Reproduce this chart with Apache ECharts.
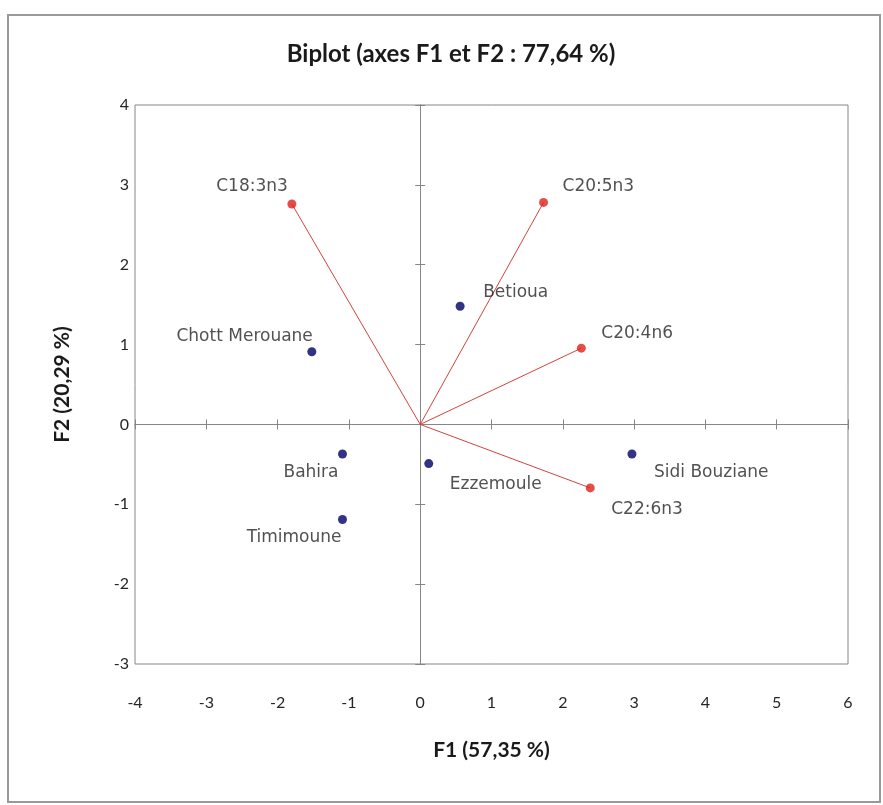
<!DOCTYPE html>
<html lang="fr">

<head>
  <meta charset="UTF-8">
  <meta name="viewport" content="width=device-width, initial-scale=1.0">
  <title>Biplot</title>
  <script src="https://cdn.jsdelivr.net/npm/echarts@6/dist/echarts.min.js"></script>
  <style>
    html, body { margin: 0; padding: 0; background: #fff; }
  </style>
</head>

<body>
  <div id="main" style="width: 883px;height:805px;"></div>
  <script>
    // 觀測值 (蓝点)
    var obsNames = ['Chott Merouane', 'Betioua', 'Bahira', 'Timimoune', 'Ezzemoule', 'Sidi Bouziane'];
    var obsF1 = [-1.52, 0.56, -1.09, -1.09, 0.12, 2.97];
    var obsF2 = [0.91, 1.48, -0.37, -1.19, -0.49, -0.37];

    // 變數 (红点 + 向量)
    var varNames = ['C18:3n3', 'C20:5n3', 'C20:4n6', 'C22:6n3'];
    var varF1 = [-1.80, 1.73, 2.26, 2.385];
    var varF2 = [2.76, 2.78, 0.955, -0.795];

    // 刻度
    var xTicks = [-4, -3, -2, -1, 0, 1, 2, 3, 4, 5, 6];
    var yTicks = [-3, -2, -1, 0, 1, 2, 3, 4];

    // 標籤位置 [align, dx, dy]
    var obsLabelPlace = [['right', 1, -15], ['left', 23, -14], ['right', -4, 19],
      ['right', -1, 18], ['left', 21, 21], ['left', 22, 19]];
    var varLabelPlace = [['right', -4, -17], ['left', 19, -16], ['left', 20, -15], ['left', 21, 22]];

    var myChart = echarts.init(document.getElementById('main'));

    var axisGrey = '#868686';
    var labelFont = { fontFamily: 'DejaVu Sans', fontSize: 17, color: '#262626' };

    function pointData(names, xs, ys, places) {
      return names.map(function (n, i) {
        return {
          name: n,
          value: [xs[i], ys[i]],
          label: {
            align: places[i][0],
            offset: [places[i][1], places[i][2]]
          }
        };
      });
    }

    var baseAxis = {
      type: 'value',
      min: xTicks[0],
      max: xTicks[xTicks.length - 1],
      interval: 1,
      splitLine: { show: false }
    };

    function centerAxis(min, max, inside) {
      return {
        type: 'value', min: min, max: max, interval: 1,
        splitLine: { show: false },
        axisLabel: { show: false },
        axisLine: { show: true, onZero: true, onZeroAxisIndex: 0, lineStyle: { color: axisGrey, width: 1 } },
        axisTick: { show: true, inside: inside, length: 5, lineStyle: { color: axisGrey } }
      };
    }

    var series = [];
    // 向量
    varNames.forEach(function (n, i) {
      series.push({
        type: 'line',
        silent: true,
        symbol: 'none',
        lineStyle: { color: '#d0443e', width: 1 },
        data: [[0, 0], [varF1[i], varF2[i]]],
        z: 2
      });
    });
    series.push({
      name: 'Variables',
      type: 'scatter',
      symbolSize: 9,
      itemStyle: { color: '#e0201b' },
      label: Object.assign({ show: true, position: 'inside', formatter: '{b}' }, labelFont),
      data: pointData(varNames, varF1, varF2, varLabelPlace),
      z: 3
    });
    series.push({
      name: 'Observations',
      type: 'scatter',
      symbolSize: 9,
      itemStyle: { color: '#000066' },
      label: Object.assign({ show: true, position: 'inside', formatter: '{b}' }, labelFont),
      data: pointData(obsNames, obsF1, obsF2, obsLabelPlace),
      z: 3
    });

    option = {
      backgroundColor: '#fff',
      animation: false,
      title: {
        text: 'Biplot (axes F1 et F2 : 77,64 %)',
        left: 446,
        textAlign: 'center',
        top: 37,
        textStyle: { fontFamily: 'Lato', fontWeight: 'bold', fontSize: 24, color: '#1a1a1a' }
      },
      grid: {
        left: 135, right: 35, top: 105, bottom: 141,
        show: true, borderColor: axisGrey, borderWidth: 1
      },
      xAxis: [
        Object.assign({}, baseAxis, {
          position: 'bottom',
          axisLine: { show: false, onZero: false },
          axisTick: { show: false },
          axisLabel: { margin: 31, fontFamily: 'Lato', fontSize: 16, color: '#262626' },
          name: 'F1 (57,35 %)',
          nameLocation: 'middle',
          nameGap: 76,
          nameTextStyle: { fontFamily: 'Lato', fontWeight: 'bold', fontSize: 21, color: '#1a1a1a' }
        }),
        Object.assign(centerAxis(xTicks[0], xTicks[xTicks.length - 1], false), { position: 'bottom' }),
        Object.assign(centerAxis(xTicks[0], xTicks[xTicks.length - 1], true), { position: 'bottom' })
      ],
      yAxis: [
        {
          type: 'value',
          min: yTicks[0],
          max: yTicks[yTicks.length - 1],
          interval: 1,
          position: 'left',
          splitLine: { show: false },
          axisLine: { show: false, onZero: false },
          axisTick: { show: false },
          axisLabel: { margin: 6, fontFamily: 'Lato', fontSize: 16, color: '#262626' },
          name: 'F2 (20,29 %)',
          nameLocation: 'middle',
          nameGap: 62,
          nameTextStyle: { fontFamily: 'Lato', fontWeight: 'bold', fontSize: 21, color: '#1a1a1a' }
        },
        Object.assign(centerAxis(yTicks[0], yTicks[yTicks.length - 1], false), { position: 'left' }),
        Object.assign(centerAxis(yTicks[0], yTicks[yTicks.length - 1], true), { position: 'left' })
      ],
      // 外框
      graphic: [
        {
          type: 'rect',
          shape: { x: 8, y: 15, width: 872, height: 787 },
          style: { fill: 'none', stroke: '#9a9a9a', lineWidth: 2 },
          silent: true
        }
      ],
      series: series
    };

    myChart.setOption(option);
  </script>
</body>

</html>
